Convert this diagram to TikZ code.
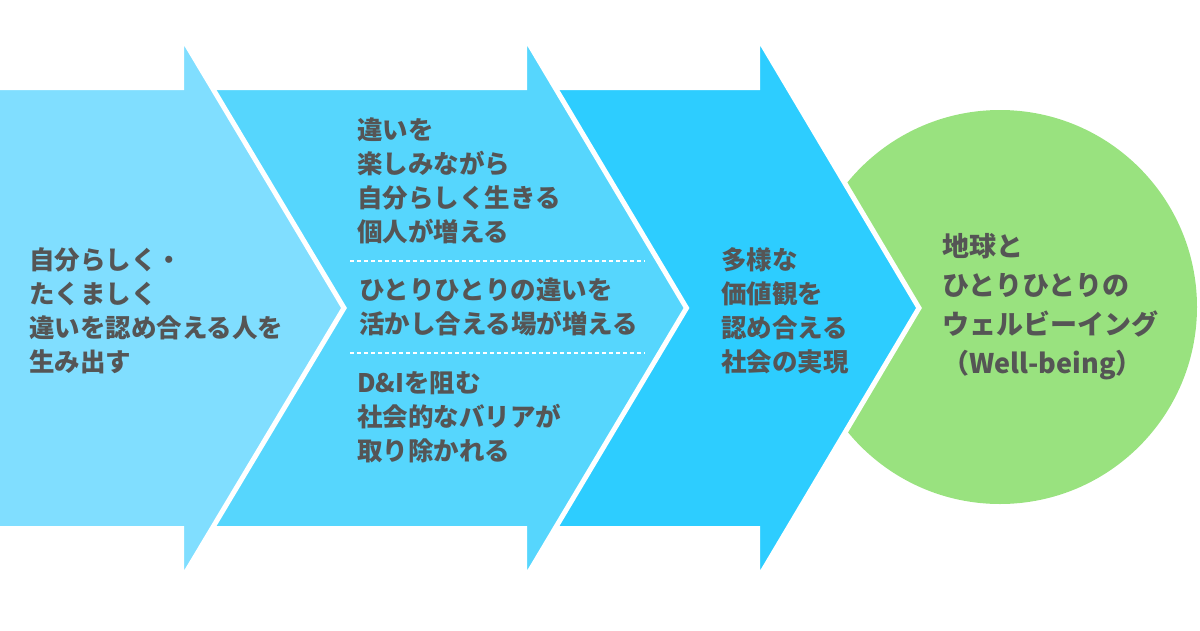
\documentclass[tikz,border=0pt]{standalone}
\usepackage{fontspec}
\newfontfamily\jp{Noto Sans CJK JP}
\definecolor{aone}{HTML}{80DEFF}
\definecolor{atwo}{HTML}{56D6FD}
\definecolor{athree}{HTML}{2DCDFF}
\definecolor{goal}{HTML}{99E27F}
\definecolor{txtgray}{HTML}{555555}
\tikzset{
  chev/.style={draw=white, line width=5pt, line join=miter},
  txt/.style={font=\jp\bfseries\fontsize{25.5}{34}\selectfont, text=txtgray, align=left, inner sep=0pt, anchor=west},
  bigtxt/.style={font=\jp\bfseries\fontsize{27}{39}\selectfont, text=txtgray, align=left, inner sep=0pt, anchor=west},
  sep/.style={draw=white, line width=1.2pt, dash pattern=on 4pt off 3pt}
}
% #1 body start x, #2 head back x, #3 tip x
\newcommand{\chevpath}[3]{%
  (#1,87.5) -- (#2,87.5) -- (#2,48)
  .. controls (#2,36) .. ({#2+5.5},45.5)
  -- (#3,308) -- ({#2+5.5},570.5)
  .. controls (#2,580) .. (#2,568)
  -- (#2,528.5) -- (#1,528.5) -- cycle}
\begin{document}
\begin{tikzpicture}[x=1pt,y=-1pt]
\useasboundingbox (0,0) rectangle (1200,630);
% goal circle
\fill[goal] (1000,307) circle (197);
% arrows
\path[chev, fill=athree] \chevpath{540}{757.5}{919};
\path[chev, fill=atwo] \chevpath{200}{524.5}{686.5};
\path[chev, fill=aone] \chevpath{-10}{181.5}{344};
% separators
\coordinate (s1a) at (350,261); \coordinate (s1b) at (645,261);
\coordinate (s2a) at (350,353); \coordinate (s2b) at (645,353);
\draw[sep] (s1a) -- (s1b);
\draw[sep] (s2a) -- (s2b);
% texts
\node[txt] (t1) at (29,311) {自分らしく・\\たくましく\\違いを認め合える人を\\生み出す};
\node[txt] (t2a) at (357,181) {違いを\\楽しみながら\\自分らしく生きる\\個人が増える};
\node[txt] (t2b) at (359,307) {ひとりひとりの違いを\\活かし合える場が増える};
\node[txt] (t2c) at (357,417) {D\&Iを阻む\\社会的なバリアが\\取り除かれる};
\node[txt] (t3) at (721,311) {多様な\\価値観を\\認め合える\\社会の実現};
\node[bigtxt] (t4) at (942,307) {地球と\\ひとりひとりの\\ウェルビーイング\\（Well-being）};
\end{tikzpicture}
\end{document}
